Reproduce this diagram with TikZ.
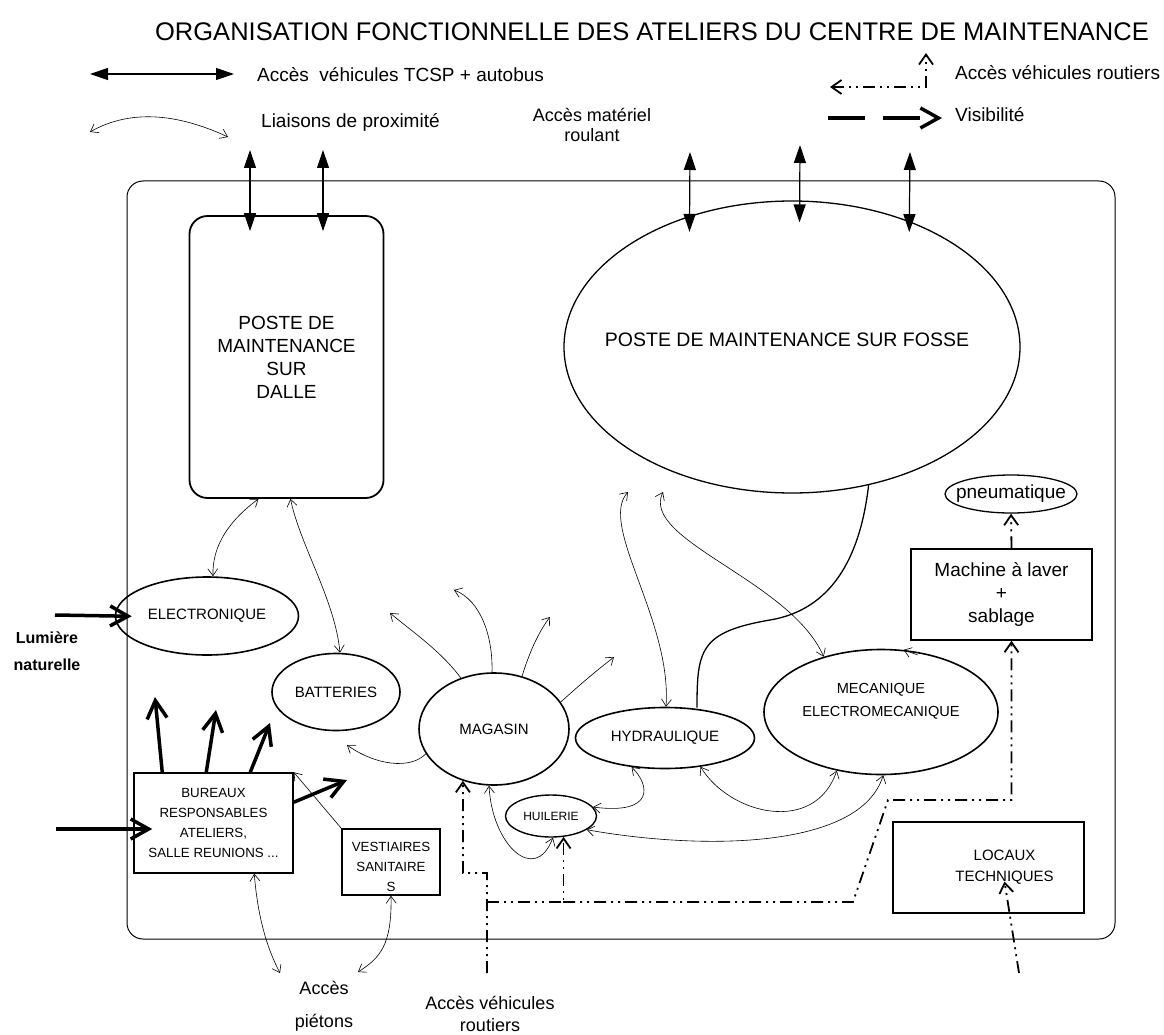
\documentclass[tikz,border=0pt]{standalone}
\usepackage{fontspec}
\setmainfont{Liberation Sans}
\usetikzlibrary{arrows.meta,shapes.geometric,calc}

\tikzset{
  txt/.style={inner sep=0pt,font=\fontsize{19}{23}\selectfont,align=center},
  petit/.style={inner sep=0pt,font=\fontsize{15}{18}\selectfont,align=center},
  mini/.style={inner sep=0pt,font=\fontsize{13.3}{20}\selectfont,align=center},
  bulle/.style={draw,ellipse,line width=1.6pt,inner sep=0pt},
  boite/.style={draw,rectangle,line width=1.5pt,inner sep=0pt},
  tcsp/.style={{Triangle[length=18pt,width=12pt]}-{Triangle[length=18pt,width=12pt]},line width=1.2pt},
  liaison/.style={{Straight Barb[length=7pt,width=10pt]}-{Straight Barb[length=7pt,width=10pt]},line width=0.6pt},
  liaisonun/.style={-{Straight Barb[length=7pt,width=10pt]},line width=0.6pt},
  routier/.style={-{Straight Barb[length=10pt,width=14pt]},line width=1.8pt,dash pattern=on 12pt off 5pt on 2pt off 5pt on 2pt off 5pt},
  visib/.style={-{Straight Barb[length=18pt,width=20pt]},line width=3.5pt},
}

\begin{document}
\begin{tikzpicture}[x=1pt,y=-1pt]
\useasboundingbox (0,0) rectangle (1164,1035);
\node[inner sep=0pt,font=\fontsize{25.5}{30}\selectfont] (titre) at (652,32) {ORGANISATION FONCTIONNELLE DES ATELIERS DU CENTRE DE MAINTENANCE};

% legende
\coordinate (lg1a) at (90,74);
\coordinate (lg1b) at (234,74);
\draw[tcsp] (lg1a) -- (lg1b);
\node[txt,anchor=west] (lgtcsp) at (257,75) {Accès\ \ véhicules TCSP + autobus};
\coordinate (lg2a) at (90,132);
\coordinate (lg2b) at (228,137);
\draw[liaison] (lg2a) .. controls (125,112) and (170,110) .. (lg2b);
\node[txt,anchor=west] (lgprox) at (261,122) {Liaisons de proximité};
\node[txt,font=\fontsize{18}{20}\selectfont] (materiel) at (592,125) {Accès matériel\\roulant};
\coordinate (lg3a) at (830,87);
\coordinate (lg3b) at (926,53);
\draw[routier,{Straight Barb[length=10pt,width=14pt]}-{Straight Barb[length=10pt,width=14pt]}] (lg3a) -| (lg3b);
\node[txt,anchor=west] (lgrout) at (955,73) {Accès véhicules routiers};
\coordinate (lg4a) at (828,118);
\coordinate (lg4b) at (942,118);
\draw[visib,dash pattern=on 37pt off 18pt] (lg4a) -- (lg4b);
\node[txt,anchor=west] (lgvis) at (955,115) {Visibilité};

% enceinte
\draw[line width=1pt,rounded corners=16pt] (127,181) rectangle (1115,939);

% postes
\node[boite,txt,rounded corners=18pt,line width=1.8pt,minimum width=194pt,minimum height=282pt] (dalle) at (286.5,357) {POSTE DE\\MAINTENANCE\\SUR\\DALLE};
\node[bulle,line width=1.3pt,minimum width=456pt,minimum height=292pt,label={[txt,font=\fontsize{19.5}{23}\selectfont,xshift=-5pt,yshift=7pt]center:POSTE DE MAINTENANCE SUR FOSSE}] (fosse) at (792,347) {};

\node[bulle,minimum width=183pt,minimum height=78pt,label={[petit]center:ELECTRONIQUE}] (elec) at (207,616) {};
\node[bulle,minimum width=128pt,minimum height=77pt,label={[petit]center:BATTERIES}] (batt) at (336,692) {};
\node[bulle,minimum width=150pt,minimum height=112pt,label={[petit]center:MAGASIN}] (mag) at (494,729) {};
\node[bulle,minimum width=179pt,minimum height=61pt,label={[petit]center:HYDRAULIQUE}] (hyd) at (665,738) {};
\node[bulle,minimum width=234pt,minimum height=125pt,label={[petit,font=\fontsize{14.6}{23}\selectfont,yshift=11pt]center:{MECANIQUE\\ELECTROMECANIQUE}}] (mec) at (881,712) {};
\node[bulle,line width=1.4pt,minimum width=91pt,minimum height=42pt,label={[petit,font=\fontsize{12}{14}\selectfont]center:HUILERIE}] (hui) at (551,816) {};
\node[bulle,line width=1.3pt,minimum width=132pt,minimum height=38pt,label={[txt]center:pneumatique}] (pneu) at (1011,494) {};

\node[boite,mini,minimum width=159pt,minimum height=100pt] (bur) at (213.5,823) {BUREAUX\\RESPONSABLES\\ATELIERS,\\SALLE REUNIONS ...};
\node[boite,minimum width=98pt,minimum height=66pt,label={[mini,yshift=-5pt]center:{VESTIAIRES\\SANITAIRE\\S}}] (vest) at (391,862) {};
\node[boite,txt,minimum width=181pt,minimum height=91pt] (mach) at (1001.5,594.5) {Machine à laver\\+\\sablage};
\node[boite,minimum width=191pt,minimum height=91pt,label={[petit,font=\fontsize{15}{21}\selectfont,xshift=16pt]center:{LOCAUX\\TECHNIQUES}}] (loc) at (988.5,867.5) {};

% lumiere
\coordinate (lum1) at (55,615);
\coordinate (lum2) at (56,829);
\draw[visib,shorten >=-17pt] (lum1) -- (elec.west);
\draw[visib,shorten >=-19pt] (lum2) -- (lum2 -| bur.west);
\node[inner sep=0pt,font=\bfseries\fontsize{16}{27}\selectfont,align=center] (lumtxt) at (47,651) {Lumière\\naturelle};

% visibilite
\coordinate (vis1) at (155,697);
\coordinate (vis2) at (216,710);
\coordinate (vis3) at (270,723);
\coordinate (vis4) at (347,780);
\draw[visib] ($(bur.north west)+(29,0)$) -- (vis1);
\draw[visib] ($(bur.north west)+(73,0)$) -- (vis2);
\draw[visib] ($(bur.north west)+(117,0)$) -- (vis3);
\draw[visib] ($(bur.north east)+(0,30)$) -- (vis4);

% acces TCSP
\coordinate (acc1) at (250,150);
\coordinate (acc2) at (323,150);
\coordinate (acc3) at (690,152);
\coordinate (acc4) at (800,145);
\coordinate (acc5) at (910,152);
\draw[tcsp,shorten >=-16pt] (acc1) -- (acc1 |- dalle.north);
\draw[tcsp,shorten >=-16pt] (acc2) -- (acc2 |- dalle.north);
\draw[tcsp,shorten >=-16pt] (acc3) -- (fosse.128);
\draw[tcsp,shorten >=-22pt] (acc4) -- (fosse.87);
\draw[tcsp,shorten >=-11pt] (acc5) -- (fosse.47);

% liaisons
\draw[liaison] ($(dalle.south)+(-28,0)$) .. controls (230,520) and (212,545) .. ($(elec.north)+(6,0)$);
\draw[liaison] ($(dalle.south)+(4,0)$) .. controls (300,545) and (335,600) .. ($(batt.north)+(4,0)$);
\coordinate (mg1) at (390,613);
\coordinate (mg2) at (454,590);
\coordinate (mg3) at (550,617);
\coordinate (mg4) at (614,657);
\coordinate (mg5) at (347,745);
\draw[liaisonun] (mag.123) .. controls (440,650) and (410,630) .. (mg1);
\draw[liaisonun] (mag.92) .. controls (493,635) and (480,600) .. (mg2);
\draw[liaisonun] (mag.62) .. controls (530,650) and (540,630) .. (mg3);
\draw[liaisonun] (mag.22) .. controls (585,680) and (600,668) .. (mg4);
\draw[liaisonun] (mag.200) .. controls (410,770) and (375,765) .. (mg5);
\draw[liaison] (mag.265) .. controls (492,845) and (535,885) .. (hui.-85);
\draw[liaison] (hyd.221) .. controls (650,785) and (655,815) .. (hui.12);
\draw[liaison] (hyd.-39) .. controls (730,815) and (815,835) .. (mec.233);
\draw[liaison] (hui.-21) .. controls (700,850) and (860,850) .. (mec.-88);
\coordinate (fl1) at (628,492);
\coordinate (fl2) at (663,492);
\draw[liaison] (fl1) .. controls (598,525) and (672,620) .. ($(hyd.north)+(1,0)$);
\draw[liaison] (fl2) .. controls (640,540) and (790,580) .. (mec.136);
\draw[liaisonun] ($(mec.70)+(14,5)$) -- (mec.70);
\draw[liaisonun] (vest.north west) -- (bur.north east);
\draw[line width=1.3pt] (fosse.-61) .. controls (860,560) and (830,610) .. (770,620) .. controls (700,632) and (697,650) .. ($(hyd.north)+(32,1)$);

% pietons
\coordinate (piet1) at (280,973);
\coordinate (piet2) at (358,972);
\draw[liaison] ($(bur.south west)+(121,0)$) .. controls (258,920) and (268,950) .. (piet1);
\draw[liaison] (vest.south) .. controls (392,945) and (380,958) .. (piet2);
\node[txt,font=\fontsize{18}{33}\selectfont] (pietons) at (324,1006) {Accès\\piétons};
\node[txt,font=\fontsize{18}{22}\selectfont] (routiers) at (490,1014) {Accès véhicules\\routiers};

% routiers
\coordinate (rt1) at (487,973);
\coordinate (rt2) at (1019,973);
\draw[routier] (rt1) -- (487,873) -- (463,873) -- (mag.239);
\draw[routier] (487,902) -| (hui.-59);
\draw[routier] (563,902) -- (853,902) -- (888,800) -- (1011.5,800) -- ($(mach.south)+(10,0)$);
\draw[routier] ($(mach.north)+(10,0)$) -- (pneu.south);
\draw[routier] (rt2) -- ($(loc.center)+(16,14)$);
\end{tikzpicture}
\end{document}
